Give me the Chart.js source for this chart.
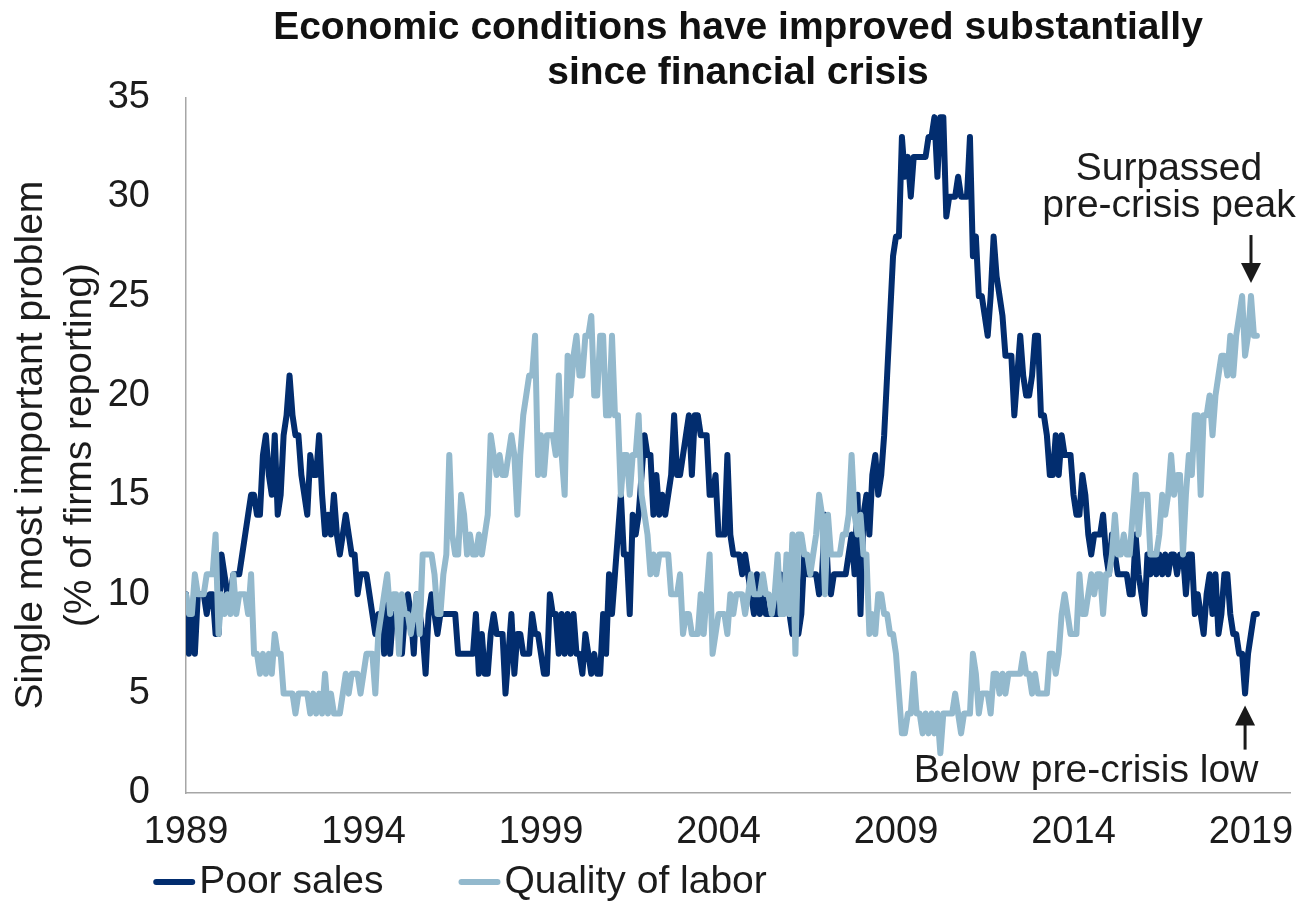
<!DOCTYPE html>
<html>
<head>
<meta charset="utf-8">
<title>Economic conditions have improved substantially since financial crisis</title>
<script src="https://cdn.jsdelivr.net/npm/chart.js@4.4.1/dist/chart.umd.min.js"></script>
<style>
  html, body { margin: 0; padding: 0; background: #ffffff; }
  #wrap { width: 1311px; height: 910px; position: relative; }
</style>
</head>
<body>
<div id="wrap"><canvas id="chart" width="1311" height="910"></canvas></div>
<script>
// NFIB survey: single most important problem, monthly from Jan 1989
const startYear = 1989;
const seriesNames = ['Poor sales', 'Quality of labor'];
const yearTicks = [1989, 1994, 1999, 2004, 2009, 2014, 2019];
const yearLabels = ['1989', '1994', '1999', '2004', '2009', '2014', '2019'];
const titleLines = ['Economic conditions have improved substantially', 'since financial crisis'];
const axisTitleLines = ['Single most important problem', '(% of firms reporting)'];
const peakNote = ['Surpassed', 'pre-crisis peak'];
const lowNote = 'Below pre-crisis low';

const poorSales = [
  10, 7, 9, 7, 10, 10, 10, 9, 10, 10, 8, 8,        // 1989
  12, 11, 10, 10, 11, 11, 11, 12, 13, 14, 15, 15,  // 1990
  14, 14, 17, 18, 16, 15, 18, 14, 15, 18, 19, 21,  // 1991
  19, 18, 18, 16, 15, 14, 17, 16, 16, 18, 15, 13,  // 1992
  14, 13, 15, 13, 12, 13, 14, 13, 12, 12, 10, 11,  // 1993
  11, 11, 10, 9, 8, 9, 9, 7, 10, 7, 9, 9,          // 1994
  9, 7, 9, 10, 9, 7, 10, 9, 8, 6, 9, 10,           // 1995
  9, 8, 9, 9, 9, 9, 9, 9, 7, 7, 7, 7,              // 1996
  7, 7, 9, 6, 8, 6, 6, 8, 9, 8, 8, 8,              // 1997
  5, 7, 9, 6, 8, 8, 7, 7, 7, 9, 8, 8,              // 1998
  7, 6, 6, 10, 9, 9, 7, 9, 7, 9, 7, 9,             // 1999
  7, 7, 6, 8, 7, 6, 7, 6, 6, 9, 7, 11,             // 2000
  9, 11, 13, 15, 12, 12, 9, 14, 13, 14, 16, 18,    // 2001
  17, 17, 14, 16, 14, 15, 14, 15, 16, 19, 16, 16,  // 2002
  17, 18, 19, 16, 19, 19, 18, 18, 18, 15, 15, 16,  // 2003
  13, 13, 13, 17, 13, 12, 12, 12, 11, 12, 11, 10,  // 2004
  9, 11, 9, 10, 9, 9, 9, 9, 9, 11, 10, 10,         // 2005
  9, 8, 9, 8, 9, 12, 11, 11, 11, 11, 10, 11,       // 2006
  14, 11, 10, 11, 11, 11, 11, 11, 12, 13, 11, 15,  // 2007
  9, 14, 15, 13, 16, 17, 15, 16, 18, 21, 24, 27,   // 2008
  28, 28, 33, 31, 32, 30, 32, 32, 32, 32, 32, 33,  // 2009
  33, 34, 31, 34, 34, 29, 30, 30, 30, 31, 30, 30,  // 2010
  30, 33, 27, 28, 25, 25, 24, 23, 25, 28, 26, 25,  // 2011
  24, 22, 22, 22, 19, 21, 23, 21, 20, 20, 21, 23,  // 2012
  23, 19, 19, 18, 16, 16, 18, 16, 18, 17, 17, 17,  // 2013
  15, 14, 14, 16, 15, 13, 12, 13, 13, 13, 14, 12,  // 2014
  11, 13, 12, 11, 11, 11, 11, 10, 10, 13, 11, 10,  // 2015
  9, 12, 11, 12, 11, 12, 11, 12, 11, 12, 12, 11,   // 2016
  12, 12, 10, 12, 12, 9, 10, 9, 8, 10, 11, 9,      // 2017
  11, 8, 9, 11, 11, 9, 8, 8, 7, 7, 5, 7,           // 2018
  8, 9, 9                                          // 2019
];

const qualityOfLabor = [
  10, 9, 9, 11, 10, 10, 10, 11, 11, 11, 13, 8,     // 1989
  10, 9, 10, 9, 11, 9, 10, 10, 10, 9, 11, 7,       // 1990
  7, 6, 7, 6, 7, 6, 8, 7, 7, 5, 5, 5,              // 1991
  5, 4, 5, 5, 5, 5, 4, 5, 4, 5, 4, 6,              // 1992
  4, 5, 4, 4, 4, 5, 6, 5, 6, 6, 6, 5,              // 1993
  6, 7, 7, 7, 5, 8, 9, 10, 11, 9, 10, 10,          // 1994
  7, 10, 9, 9, 8, 9, 10, 8, 12, 12, 12, 12,        // 1995
  11, 9, 9, 11, 12, 17, 13, 12, 12, 15, 14, 12,    // 1996
  13, 12, 12, 13, 12, 13, 14, 18, 17, 16, 17, 16,  // 1997
  16, 17, 18, 17, 14, 17, 19, 20, 21, 21, 23, 16,  // 1998
  18, 16, 18, 18, 18, 17, 21, 17, 15, 22, 20, 22,  // 1999
  23, 21, 21, 23, 23, 24, 20, 20, 23, 23, 19, 19,  // 2000
  23, 19, 19, 15, 17, 17, 15, 17, 17, 19, 15, 14,  // 2001
  13, 11, 12, 11, 12, 12, 12, 12, 10, 10, 10, 11,  // 2002
  8, 9, 9, 8, 8, 8, 10, 8, 10, 12, 7, 8,           // 2003
  9, 9, 9, 8, 10, 9, 10, 10, 10, 9, 10, 11,        // 2004
  10, 10, 10, 11, 10, 10, 9, 10, 12, 9, 9, 12,     // 2005
  9, 13, 7, 13, 13, 12, 12, 11, 12, 13, 15, 14,    // 2006
  10, 14, 12, 12, 12, 12, 13, 13, 14, 17, 14, 13,  // 2007
  14, 12, 12, 8, 9, 8, 10, 10, 9, 9, 8, 8,         // 2008
  7, 5, 3, 3, 4, 4, 6, 4, 4, 3, 4, 3,              // 2009
  4, 3, 4, 2, 4, 4, 4, 4, 5, 4, 3, 4,              // 2010
  4, 4, 7, 6, 4, 5, 5, 5, 4, 6, 6, 5,              // 2011
  6, 5, 6, 6, 6, 6, 6, 7, 6, 6, 5, 6,              // 2012
  5, 5, 5, 5, 7, 7, 6, 7, 9, 10, 9, 8,             // 2013
  8, 8, 11, 9, 9, 10, 11, 10, 11, 11, 9, 11,       // 2014
  11, 12, 14, 12, 12, 13, 12, 12, 14, 16, 13, 15,  // 2015
  15, 15, 12, 12, 12, 13, 15, 14, 15, 17, 15, 16,  // 2016
  16, 12, 15, 17, 16, 19, 19, 15, 19, 19, 20, 18,  // 2017
  20, 21, 22, 22, 21, 23, 21, 23, 24, 25, 22, 23,  // 2018
  25, 23, 23                                       // 2019
];

// Months the two callouts point at (index into the monthly series)
const peakNoteIndex = 360;
const lowNoteIndex = 358;

const DARK = '#022D6F';
const LIGHT = '#93B9CD';
const TEXT = '#1c1c1c';
const AXIS = '#a6a6a6';
const FONT = '"Liberation Sans", Arial, Helvetica, sans-serif';

const toPoints = arr => arr.map((v, i) => ({ x: startYear + i / 12, y: v }));

// Legend, callouts and arrows drawn on top of the plot
const notesPlugin = {
  id: 'notes',
  afterDraw(chart) {
    const { ctx } = chart;
    const xs = chart.scales.x, ys = chart.scales.y;
    ctx.save();

    // legend
    ctx.font = '39px ' + FONT;
    ctx.textBaseline = 'middle';
    ctx.textAlign = 'left';
    const items = chart.data.datasets.slice().sort((a, b) => a.legendRank - b.legendRank);
    const markLen = 42, markGap = 4, itemGap = 75;
    let total = 0;
    items.forEach((ds, i) => {
      total += markLen + markGap + ctx.measureText(ds.label).width + (i ? itemGap : 0);
    });
    let lx = 460 - total / 2;
    const ly = 882;
    items.forEach((ds, i) => {
      if (i) lx += itemGap;
      ctx.strokeStyle = ds.borderColor;
      ctx.lineWidth = 6;
      ctx.lineCap = 'round';
      ctx.beginPath();
      ctx.moveTo(lx + 3, ly);
      ctx.lineTo(lx + markLen - 3, ly);
      ctx.stroke();
      lx += markLen + markGap;
      ctx.fillStyle = TEXT;
      ctx.fillText(ds.label, lx, ly);
      lx += ctx.measureText(ds.label).width;
    });

    // arrow helper
    const arrow = (x, fromY, tipY) => {
      const dir = tipY > fromY ? 1 : -1;
      const headLen = 20, headHalf = 10;
      ctx.strokeStyle = '#1a1a1a';
      ctx.fillStyle = '#1a1a1a';
      ctx.lineWidth = 3;
      ctx.lineCap = 'butt';
      ctx.beginPath();
      ctx.moveTo(x, fromY);
      ctx.lineTo(x, tipY - dir * (headLen - 2));
      ctx.stroke();
      ctx.beginPath();
      ctx.moveTo(x, tipY);
      ctx.lineTo(x - headHalf, tipY - dir * headLen);
      ctx.lineTo(x + headHalf, tipY - dir * headLen);
      ctx.closePath();
      ctx.fill();
    };

    // peak callout on quality of labor
    const px = xs.getPixelForValue(startYear + peakNoteIndex / 12);
    const py = ys.getPixelForValue(qualityOfLabor[peakNoteIndex]);
    const peakTip = py - 13;
    arrow(px, peakTip - 48, peakTip);
    ctx.fillStyle = TEXT;
    ctx.font = '39px ' + FONT;
    ctx.textAlign = 'center';
    ctx.textBaseline = 'alphabetic';
    ctx.fillText(peakNote[0], px - 82, peakTip - 103);
    ctx.fillText(peakNote[1], px - 82, peakTip - 66);

    // low callout on poor sales
    const qx = xs.getPixelForValue(startYear + lowNoteIndex / 12);
    const qy = ys.getPixelForValue(poorSales[lowNoteIndex]);
    const lowTip = qy + 12;
    arrow(qx, lowTip + 44, lowTip);
    ctx.fillStyle = TEXT;
    ctx.fillText(lowNote, qx - 159, lowTip + 76);

    ctx.restore();
  }
};

new Chart(document.getElementById('chart'), {
  type: 'line',
  data: {
    datasets: [
      {
        label: seriesNames[0],
        data: toPoints(poorSales),
        borderColor: DARK,
        backgroundColor: DARK,
        borderWidth: 6,
        pointRadius: 0,
        tension: 0,
        borderJoinStyle: 'round',
        borderCapStyle: 'round',
        order: 2,
        legendRank: 0
      },
      {
        label: seriesNames[1],
        data: toPoints(qualityOfLabor),
        borderColor: LIGHT,
        backgroundColor: LIGHT,
        borderWidth: 6,
        pointRadius: 0,
        tension: 0,
        borderJoinStyle: 'round',
        borderCapStyle: 'round',
        order: 1,
        legendRank: 1
      }
    ]
  },
  options: {
    responsive: false,
    animation: false,
    devicePixelRatio: 1,
    layout: { padding: { left: 0, right: 16, top: 0, bottom: 54 } },
    plugins: {
      legend: { display: false },
      tooltip: { enabled: false },
      title: {
        display: true,
        text: titleLines,
        fullSize: false,
        color: '#111111',
        font: { family: FONT, size: 39, weight: 'bold', lineHeight: 1.17 },
        padding: { top: 5, bottom: 1 }
      }
    },
    scales: {
      x: {
        type: 'linear',
        min: startYear,
        max: 2020.1,
        afterBuildTicks: s => { s.ticks = yearTicks.map(v => ({ value: v })); },
        afterFit: s => { s.height = 63; },
        grid: { display: false, drawTicks: false },
        border: { display: true, color: AXIS, width: 1.5 },
        ticks: {
          autoSkip: false,
          maxRotation: 0,
          padding: 17,
          color: TEXT,
          font: { family: FONT, size: 38 },
          callback: (v, i) => yearLabels[i]
        }
      },
      y: {
        min: 0,
        max: 35,
        afterFit: s => { s.width = 186; },
        grid: { display: false, drawTicks: false },
        border: { display: true, color: AXIS, width: 1.5 },
        ticks: {
          stepSize: 5,
          padding: 36,
          color: TEXT,
          font: { family: FONT, size: 38 }
        },
        title: {
          display: true,
          text: axisTitleLines,
          color: TEXT,
          font: { family: FONT, size: 39, lineHeight: 1.25 },
          padding: { top: 7, bottom: 0 }
        }
      }
    }
  },
  plugins: [notesPlugin]
});
</script>
</body>
</html>
